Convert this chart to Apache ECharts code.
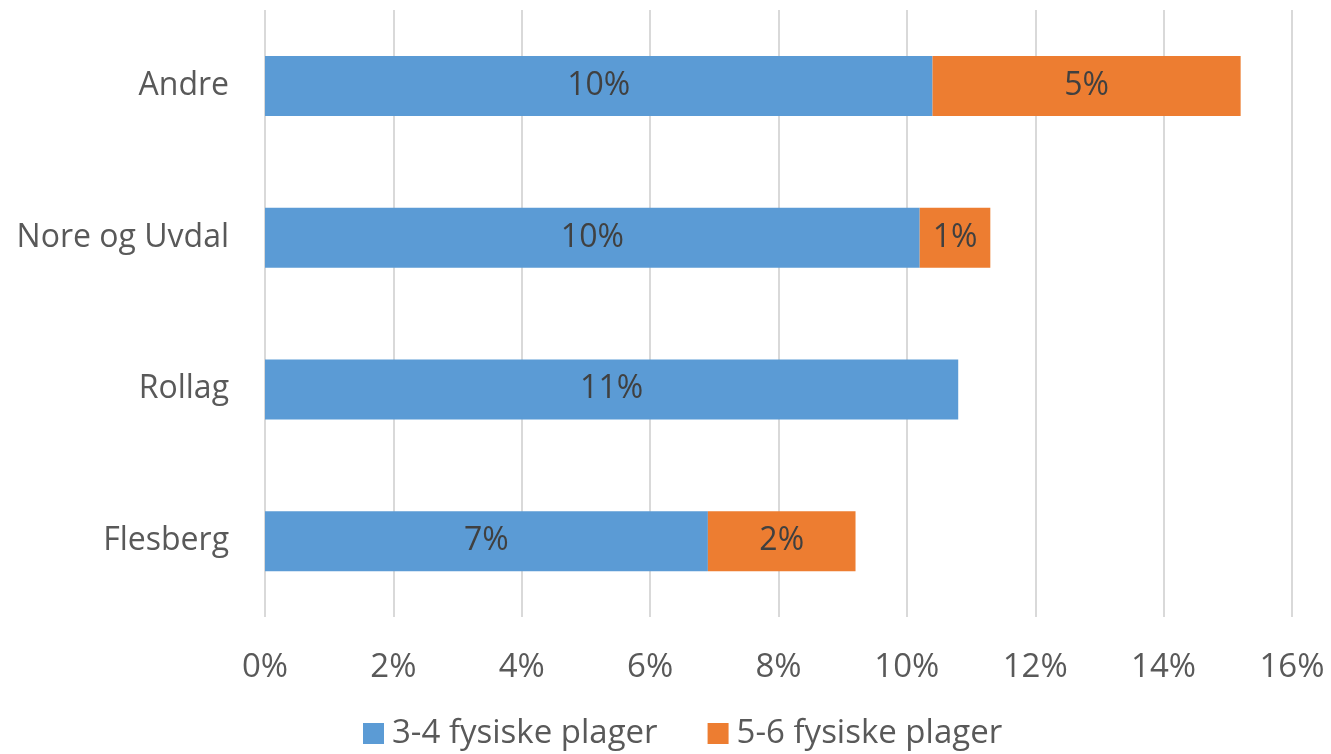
<!DOCTYPE html>
<html><head><meta charset="utf-8">
<script src="https://cdn.jsdelivr.net/npm/echarts@6/dist/echarts.min.js"></script>
<style>html,body{margin:0;padding:0;background:#fff}#c{width:1331px;height:754px}</style>
</head><body><div id="c"></div>
<script>
const categories = ['Flesberg', 'Rollag', 'Nore og Uvdal', 'Andre'];
const series1Name = '3-4 fysiske plager';
const series2Name = '5-6 fysiske plager';
const series1Values = [6.9, 10.8, 10.2, 10.4];
const series2Values = [2.3, 0, 1.1, 4.8];
const xTicks = [0, 2, 4, 6, 8, 10, 12, 14, 16];

const font = 'Open Sans';
const chart = echarts.init(document.getElementById('c'));
chart.setOption({
  animation: false,
  textStyle: { fontFamily: font },
  grid: { left: 265, right: 39, top: 10, bottom: 137, containLabel: false },
  legend: {
    top: 717, left: 363, padding: 0, itemWidth: 21, itemHeight: 21, itemGap: 50,
    icon: 'rect',
    textStyle: { fontSize: 33, color: '#595959', fontFamily: font, padding: [0, 0, 0, 3] },
    data: [series1Name, series2Name]
  },
  xAxis: {
    type: 'value', min: xTicks[0], max: xTicks[xTicks.length - 1], interval: 2,
    axisLine: { show: false }, axisTick: { show: false },
    splitLine: { lineStyle: { color: '#d9d9d9', width: 2 } },
    axisLabel: { formatter: v => v + '%', fontSize: 33, color: '#595959', margin: 34 }
  },
  yAxis: {
    type: 'category', data: categories,
    axisLine: { show: false }, axisTick: { show: false },
    axisLabel: { fontSize: 32, color: '#595959', margin: 36 }
  },
  series: [
    {
      name: series1Name, type: 'bar', stack: 'a', barWidth: 60,
      itemStyle: { color: '#5B9BD5' },
      label: { show: true, position: 'inside', fontSize: 32, color: '#404040',
        formatter: p => p.value > 0 ? Math.round(p.value) + '%' : '' },
      data: series1Values
    },
    {
      name: series2Name, type: 'bar', stack: 'a', barWidth: 60,
      itemStyle: { color: '#ED7D31' },
      label: { show: true, position: 'inside', fontSize: 32, color: '#404040',
        formatter: p => p.value > 0 ? Math.round(p.value) + '%' : '' },
      data: series2Values
    }
  ]
});
</script></body></html>
